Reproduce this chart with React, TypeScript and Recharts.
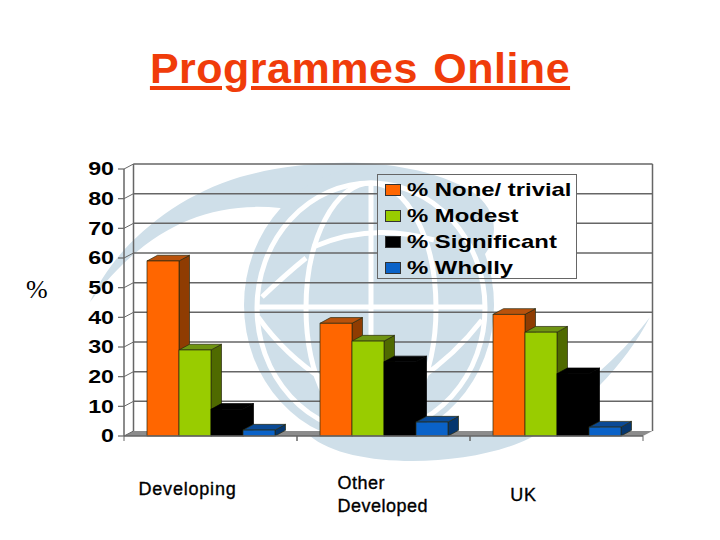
import { BarChart, Bar, XAxis, YAxis, CartesianGrid, Legend } from 'recharts';

const categories = ['Developing', 'Other Developed', 'UK'];
const noneTrivial = [59, 38, 41];
const modest = [29, 32, 35];
const significant = [9, 25, 21];
const wholly = [2, 4.7, 3];
const yTicks = [0, 10, 20, 30, 40, 50, 60, 70, 80, 90];
const seriesNames = ['% None/ trivial', '% Modest', '% Significant', '% Wholly'];

const data = categories.map((name, i) => ({
    name,
    none: noneTrivial[i],
    modest: modest[i],
    significant: significant[i],
    wholly: wholly[i],
}));

// depth of the fake 3d
const DX = 9.5;
const DY = 5;
const BAR_DX = 10.5;
const BAR_DY = 5.7;
const SANS = "'Liberation Sans', Arial, sans-serif";
const STRETCH = 1.29;
const LINE = '#666666';
const PALE = '#cfdfe9';

const colors = {
    none: { front: '#ff6600', side: '#8f3c02', top: '#b9520c' },
    modest: { front: '#99cc00', side: '#4f6a00', top: '#6f9412' },
    significant: { front: '#000000', side: '#000000', top: '#000000' },
    wholly: { front: '#0a62c8', side: '#05366e', top: '#0a4a96' },
};

const Bar3d = (props: any) => {
    const { x, y, width, height, palette } = props;
    const stroke = palette.front === '#000000' ? '#000' : '#2a2a10';
    return (
        <g stroke={stroke} strokeWidth={0.7}>
            <path d={`M${x + width},${y} l${BAR_DX},${-BAR_DY} v${height} l${-BAR_DX},${BAR_DY} z`} fill={palette.side} />
            <path d={`M${x},${y} l${BAR_DX},${-BAR_DY} h${width} l${-BAR_DX},${BAR_DY} z`} fill={palette.top} />
            <rect x={x} y={y} width={width} height={height} fill={palette.front} />
        </g>
    );
};

// gridlines sit on the back wall, shifted from the axis ticks
const GridLine = (p: any) => {
    const isFloor = p.y1 === p.y + p.height;
    return (
        <g>
            {isFloor ? (
                <>
                    <path d={`M${p.x1},${p.y1} l${DX},${-DY} H${p.x2 + DX} l${-DX},${DY} z`} fill="#8c8c8c" />
                    <line x1={p.x1 + DX} y1={p.y - DY} x2={p.x1 + DX} y2={p.y1 - DY} stroke={LINE} strokeWidth={1.5} />
                    <line x1={p.x2 + DX} y1={p.y - DY} x2={p.x2 + DX} y2={p.y1 - DY} stroke={LINE} strokeWidth={1.5} />
                </>
            ) : (
                <line x1={p.x1 + DX} y1={p.y1 - DY} x2={p.x2 + DX} y2={p.y1 - DY} stroke={LINE} strokeWidth={1.5} />
            )}
            <line x1={p.x1} y1={p.y1} x2={p.x1 + DX} y2={p.y1 - DY} stroke={LINE} strokeWidth={1} />
            <line x1={p.x1 - 6} y1={p.y1} x2={p.x1} y2={p.y1} stroke={LINE} strokeWidth={1.2} />
        </g>
    );
};

const ValueTick = (props: any) => {
    const { x, y, payload } = props;
    return (
        <text
            transform={`translate(${x},${y}) scale(${STRETCH},1)`}
            textAnchor="end"
            dy="0.36em"
            fontFamily={SANS}
            fontWeight={700}
            fontSize={18}
            fill="#000"
        >
            {payload.value}
        </text>
    );
};

const labelLines: Record<string, string[]> = {
    Developing: ['Developing'],
    'Other Developed': ['Other', 'Developed'],
    UK: ['UK'],
};
const labelPos: Record<string, { dx: number; y: number; anchor: 'start' | 'middle'; spacing: number }> = {
    Developing: { dx: -23, y: 495, anchor: 'middle', spacing: 0.8 },
    'Other Developed': { dx: -46, y: 489, anchor: 'start', spacing: 0.5 },
    UK: { dx: -33, y: 501, anchor: 'middle', spacing: 0.8 },
};

const CategoryTick = (props: any) => {
    const { x, y, payload } = props;
    const pos = labelPos[payload.value];
    return (
        <g>
            <line x1={x - 86.5} y1={y} x2={x - 86.5} y2={y + 5} stroke={LINE} strokeWidth={1} />
            <line x1={x + 86.5} y1={y} x2={x + 86.5} y2={y + 5} stroke={LINE} strokeWidth={1} />
            {labelLines[payload.value].map((line, i) => (
                <text
                    key={line}
                    x={x + pos.dx}
                    y={pos.y + i * 23}
                    textAnchor={pos.anchor}
                    fontFamily={SANS}
                    fontSize={18}
                    letterSpacing={pos.spacing}
                    stroke="#000"
                    strokeWidth={0.35}
                    fill="#000"
                >
                    {line}
                </text>
            ))}
        </g>
    );
};

// watermark behind the chart
const Globe = () => (
    <svg width={720} height={540} style={{ position: 'absolute', left: 0, top: 0 }}>
        <path
            d="M90,302 C112,250 170,198 240,177 C300,160 400,152 470,190 C500,210 500,240 480,260 L280,208 C200,200 140,235 90,302 z"
            fill={PALE}
        />
        <ellipse cx={369} cy={305} rx={125} ry={137} fill={PALE} />
        <path
            d="M310,436 C350,470 470,468 530,438 C580,412 625,365 650,317 C625,350 590,385 545,410 C510,430 470,440 420,432 z"
            fill={PALE}
        />
        <g fill="none" stroke="#fff" strokeWidth={5}>
            <ellipse cx={371} cy={308} rx={114} ry={125} />
            <ellipse cx={371} cy={308} rx={65} ry={125} />
            <line x1={371} y1={183} x2={371} y2={433} />
            <line x1={257} y1={307} x2={485} y2={307} />
            <path d="M313,247 Q371,222 434,240" />
            <path d="M262,297 Q285,275 306,258" />
            <path d="M258,317 Q285,355 324,380" />
            <path d="M418,380 Q455,355 482,320" />
        </g>
    </svg>
);

const LegendBox = () => (
    <div
        style={{
            position: 'relative',
            width: 200,
            height: 105,
            boxSizing: 'border-box',
            background: '#fff',
            border: `1px solid ${LINE}`,
            overflow: 'hidden',
        }}
    >
        <div style={{ position: 'absolute', left: -378, top: -175, width: 720, height: 540 }}>
            <Globe />
        </div>
        {seriesNames.map((name, i) => {
            const palette = Object.values(colors)[i];
            return (
                <div
                    key={name}
                    style={{
                        position: 'absolute',
                        left: 7,
                        top: 1.5 + i * 26.2,
                        height: 26,
                        display: 'flex',
                        alignItems: 'center',
                        fontFamily: SANS,
                        fontWeight: 700,
                        fontSize: 18.5,
                        color: '#000',
                        whiteSpace: 'nowrap',
                    }}
                >
                    <span
                        style={{
                            display: 'inline-block',
                            width: 14,
                            height: 10,
                            marginRight: 6,
                            background: palette.front,
                            border: '1px solid #333',
                        }}
                    />
                    <span style={{ display: 'inline-block', transform: `scaleX(${STRETCH})`, transformOrigin: 'left center' }}>
                        {name}
                    </span>
                </div>
            );
        })}
    </div>
);

const App = () => {
    return (
        <div style={{ position: 'absolute', left: 0, top: 0, width: 720, height: 540, background: '#fff', overflow: 'hidden' }}>
            <Globe />
            <div
                style={{
                    position: 'absolute',
                    left: 0,
                    top: 44,
                    width: 720,
                    textAlign: 'center',
                    fontFamily: SANS,
                    fontWeight: 700,
                    fontSize: 43,
                    color: '#f03c0a',
                    textDecoration: 'underline',
                    letterSpacing: 0.5,
                    wordSpacing: 3,
                    whiteSpace: 'pre',
                }}
            >
                Programmes Online
            </div>
            <div style={{ position: 'absolute', left: 26, top: 275, fontFamily: "'Liberation Serif', serif", fontSize: 26, color: '#000' }}>
                %
            </div>
            <div style={{ position: 'absolute', left: 0, top: 0 }}>
                <BarChart
                    width={720}
                    height={540}
                    data={data}
                    margin={{ top: 169, right: 77, left: 64, bottom: 74 }}
                    barCategoryGap={23}
                    barGap={0}
                >
                    <CartesianGrid vertical={false} horizontal={GridLine as any} />
                    <XAxis
                        dataKey="name"
                        height={30}
                        interval={0}
                        tickSize={0}
                        tickMargin={0}
                        tickLine={false}
                        tick={CategoryTick}
                        axisLine={{ stroke: LINE, strokeWidth: 1.5 }}
                    />
                    <YAxis
                        width={60}
                        domain={[0, 90]}
                        ticks={yTicks}
                        interval={0}
                        tickLine={false}
                        tickSize={0}
                        tickMargin={10}
                        axisLine={{ stroke: LINE, strokeWidth: 1.5 }}
                        tick={ValueTick}
                    />
                    <Legend
                        layout="vertical"
                        align="center"
                        verticalAlign="middle"
                        content={<LegendBox />}
                        wrapperStyle={{ left: 377, top: 174, width: 200, height: 105 }}
                    />
                    <Bar dataKey="none" name={seriesNames[0]} fill={colors.none.front} isAnimationActive={false} shape={<Bar3d palette={colors.none} />} />
                    <Bar dataKey="modest" name={seriesNames[1]} fill={colors.modest.front} isAnimationActive={false} shape={<Bar3d palette={colors.modest} />} />
                    <Bar dataKey="significant" name={seriesNames[2]} fill={colors.significant.front} isAnimationActive={false} shape={<Bar3d palette={colors.significant} />} />
                    <Bar dataKey="wholly" name={seriesNames[3]} fill={colors.wholly.front} isAnimationActive={false} shape={<Bar3d palette={colors.wholly} />} />
                </BarChart>
            </div>
        </div>
    );
};

export default App;
